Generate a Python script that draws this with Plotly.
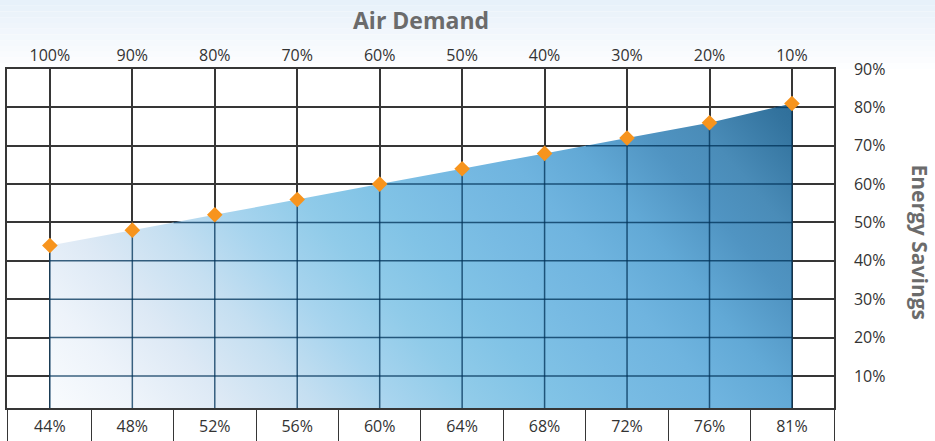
import numpy as np
import plotly.graph_objects as go

# ---------------- data ----------------
air_demand = [100, 90, 80, 70, 60, 50, 40, 30, 20, 10]
air_demand_labels = ["100%", "90%", "80%", "70%", "60%", "50%", "40%", "30%", "20%", "10%"]
energy_savings = [44, 48, 52, 56, 60, 64, 68, 72, 76, 81]
energy_savings_labels = ["44%", "48%", "52%", "56%", "60%", "64%", "68%", "72%", "76%", "81%"]
savings_ticks = [10, 20, 30, 40, 50, 60, 70, 80, 90]
savings_tick_labels = ["10%", "20%", "30%", "40%", "50%", "60%", "70%", "80%", "90%"]

# ---------------- style ----------------
W, H = 935, 441
ML, MR, MT, MB = 7, 101, 69, 33
X_RANGE = [105.2, 4.9]
Y_RANGE = [1.65, 90]
FONT = "Open Sans"
GRID = "#363636"
TEXT = "#333333"
TITLE = "#6b6b6b"
ORANGE = "#f7941d"
INNER_GRID = "rgba(0,50,88,0.76)"

fill_scale = [
    [0.0, "#fafcfe"], [0.10, "#edf3fa"], [0.183, "#dde9f5"], [0.271, "#c5dff1"],
    [0.3525, "#a7d4ee"], [0.433, "#90cbe9"], [0.5125, "#81c3e6"], [0.592, "#78bbe3"],
    [0.675, "#6fb4df"], [0.75, "#62a9d6"], [0.833, "#5094c2"], [0.892, "#4a8cb8"],
    [0.979, "#33739e"], [1.0, "#2f6f9a"],
]

fig = go.Figure()

# gradient area
fig.add_trace(go.Scatter(
    x=air_demand, y=energy_savings, mode="none", fill="tozeroy",
    fillgradient=dict(type="horizontal", colorscale=fill_scale),
    hoverinfo="skip", xaxis="x", yaxis="y",
))

# grid lines seen through the area (derived from the data and tick arrays)
gx, gy = [], []
for d, s in zip(air_demand, energy_savings):
    gx += [d, d, None]
    gy += [0, s, None]
for lvl in savings_ticks:
    if lvl >= max(energy_savings):
        continue
    if lvl <= min(energy_savings):
        start = air_demand[0]
    else:
        start = float(np.interp(lvl, energy_savings, air_demand))
    gx += [start, air_demand[-1], None]
    gy += [lvl, lvl, None]
fig.add_trace(go.Scatter(
    x=gx, y=gy, mode="lines", line=dict(color=INNER_GRID, width=1.5),
    hoverinfo="skip", xaxis="x", yaxis="y",
))

# markers
fig.add_trace(go.Scatter(
    x=air_demand, y=energy_savings, mode="markers",
    marker=dict(symbol="diamond", size=12, color=ORANGE, line=dict(width=0)),
    xaxis="x2", yaxis="y", hovertemplate="%{y}%<extra></extra>",
))

# soft blue header background
plot_w = W - ML - MR
plot_h = H - MT - MB
top_rgb = np.array([231, 241, 250])
bot_rgb = np.array([253, 254, 255])
n_bands = 12
band_px = MT / n_bands
shapes = []
for i in range(n_bands):
    c = top_rgb + (bot_rgb - top_rgb) * (i / (n_bands - 1))
    p0, p1 = i * band_px, (i + 1) * band_px
    shapes.append(dict(
        type="rect", xref="paper", yref="paper", layer="below",
        x0=-ML / plot_w, x1=1 + MR / plot_w,
        y0=1 + (MT - p1) / plot_h, y1=1 + (MT - p0) / plot_h,
        fillcolor="rgb(%d,%d,%d)" % tuple(c.astype(int)), line=dict(width=0),
    ))

# table-row separators below the plot (midpoints between columns plus both edges)
sep_x = [X_RANGE[0]] + [(a + b) / 2 for a, b in zip(air_demand[:-1], air_demand[1:])] + [X_RANGE[1]]

fig.update_layout(
    width=W, height=H, autosize=False,
    margin=dict(l=ML, r=MR, t=MT, b=MB, pad=0, autoexpand=False),
    paper_bgcolor="white", plot_bgcolor="white",
    showlegend=False, shapes=shapes,
    font=dict(family=FONT, size=16, color=TEXT),
    xaxis=dict(
        range=X_RANGE, tickmode="array", tickvals=air_demand, ticktext=energy_savings_labels,
        showgrid=True, gridcolor=GRID, gridwidth=1.5, showline=True, linecolor=GRID,
        linewidth=1.5, ticks="", ticklabelstandoff=3, zeroline=False, fixedrange=True,
        automargin=False,
        minor=dict(tickmode="array", tickvals=sep_x, ticks="outside", ticklen=MB,
                   tickcolor=GRID, tickwidth=1.2, showgrid=False),
    ),
    xaxis2=dict(
        overlaying="x", matches="x", side="top", tickmode="array", tickvals=air_demand,
        ticktext=air_demand_labels, showgrid=False, showline=True, linecolor=GRID,
        linewidth=1.5, ticks="", zeroline=False, fixedrange=True, automargin=False,
    ),
    yaxis=dict(
        range=Y_RANGE, side="right", tickmode="array", tickvals=savings_ticks,
        ticktext=savings_tick_labels, showgrid=True, gridcolor=GRID, gridwidth=1.5,
        showline=True, mirror=True, linecolor=GRID, linewidth=1.5, ticks="",
        ticklabelstandoff=15, zeroline=False, fixedrange=True, automargin=False,
    ),
    annotations=[
        dict(text="<b>Air Demand</b>", xref="paper", yref="paper", x=0.5, y=1,
             xanchor="center", yanchor="middle", yshift=49, showarrow=False,
             font=dict(family=FONT, size=23, color=TITLE)),
        dict(text="<b>Energy Savings</b>", xref="paper", yref="paper", x=1, y=0.5,
             xanchor="center", yanchor="middle", xshift=86, yshift=-3, textangle=90,
             showarrow=False, font=dict(family=FONT, size=21, color=TITLE)),
    ],
)

post_js = """
document.body.style.margin = '0';
var gd = document.getElementById('{plot_id}');
gd.querySelectorAll('linearGradient').forEach(function(g){
  var x1 = parseFloat(g.getAttribute('x1')); var x2 = parseFloat(g.getAttribute('x2'));
  if (isNaN(x1)) x1 = 0; if (isNaN(x2)) x2 = 1;
  g.setAttribute('gradientUnits', 'objectBoundingBox');
  if (x1 <= x2) {
    g.setAttribute('x1','0'); g.setAttribute('y1','1'); g.setAttribute('x2','1.2'); g.setAttribute('y2','0.568');
  } else {
    g.setAttribute('x1','1.2'); g.setAttribute('y1','0.568'); g.setAttribute('x2','0'); g.setAttribute('y2','1');
  }
});
"""

fig.write_html("out.html", config={"displayModeBar": False}, post_script=post_js)
